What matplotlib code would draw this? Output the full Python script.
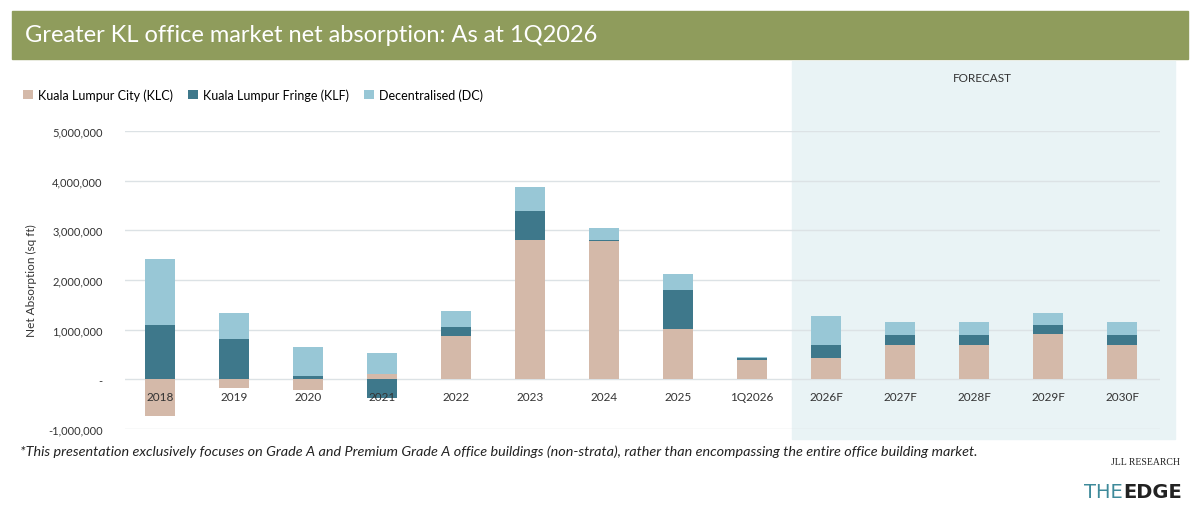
import matplotlib.pyplot as plt
import matplotlib.patches as mpatches
import numpy as np

plt.rcParams['font.family'] = ['Lato', 'DejaVu Sans']

categories = ['2018', '2019', '2020', '2021', '2022', '2023', '2024', '2025', '1Q2026',
              '2026F', '2027F', '2028F', '2029F', '2030F']
klc = [-730000, -170000, -210000, 115000, 865000, 2800000, 2780000, 1010000, 380000,
       420000, 700000, 700000, 905000, 690000]
klf = [1090000, 810000, 70000, -380000, 195000, 585000, 30000, 790000, 40000,
       280000, 190000, 190000, 185000, 200000]
dc = [1340000, 520000, 590000, 425000, 310000, 480000, 240000, 320000, 30000,
      580000, 270000, 260000, 255000, 260000]
series = [('Kuala Lumpur City (KLC)', klc, '#D4B9A9'),
          ('Kuala Lumpur Fringe (KLF)', klf, '#3E788B'),
          ('Decentralised (DC)', dc, '#98C7D6')]

fig = plt.figure(figsize=(12, 5.1), dpi=100)

# header band
fig.patches.append(mpatches.Rectangle((12/1200, 1-60/510), 1176/1200, 48/510,
                                      transform=fig.transFigure, color='#8F9C5C', zorder=-2))
fig.text(25/1200, 1-36/510, 'Greater KL office market net absorption: As at 1Q2026',
         color='white', fontsize=17, va='center')

# forecast shading
fig.patches.append(mpatches.Rectangle((792/1200, 1-440/510), 383/1200, 378/510,
                                      transform=fig.transFigure, color='#E9F3F5', zorder=-2))
fig.text(982/1200, 1-78/510, 'FORECAST', fontsize=8.5, ha='center', va='center', color='#333333')

ax = fig.add_axes([125/1200, 1-430/510, 1035/1200, 298/510])
ax.patch.set_alpha(0)
x = np.arange(len(categories))
pos_bottom = np.zeros(len(x))
neg_bottom = np.zeros(len(x))
for name, vals, col in series:
    v = np.array(vals, dtype=float)
    bottom = np.where(v >= 0, pos_bottom, neg_bottom)
    ax.bar(x, v, 0.4, bottom=bottom, color=col, label=name, zorder=3)
    pos_bottom += np.where(v >= 0, v, 0)
    neg_bottom += np.where(v < 0, v, 0)

ax.set_ylim(-1000000, 5000000)
ax.set_xlim(-0.47, 13.51)
ax.set_yticks(range(-1000000, 5000001, 1000000))
ax.set_yticklabels(['-1,000,000', '-', '1,000,000', '2,000,000', '3,000,000',
                    '4,000,000', '5,000,000'], fontsize=8, color='#333333')
ax.grid(axis='y', color='#DCE2E5', linewidth=1, zorder=0)
ax.tick_params(length=0, pad=16)
for s in ax.spines.values():
    s.set_visible(False)
ax.set_xticks([])
ax.set_ylabel('Net Absorption (sq ft)', fontsize=8.5, color='#333333', labelpad=8)
for i, c in enumerate(categories):
    ax.text(i, -340000, c, ha='center', va='center', fontsize=8.5, color='#333333', zorder=5)

fig.legend(loc='upper left', bbox_to_anchor=(12/1200, 1-78/510), ncol=3, frameon=False,
           fontsize=9, handlelength=0.8, handleheight=0.8, columnspacing=1.2, handletextpad=0.4)

fig.text(20/1200, 1-452/510,
         '*This presentation exclusively focuses on Grade A and Premium Grade A office buildings '
         '(non-strata), rather than encompassing the entire office building market.',
         fontsize=10.4, style='italic', va='center', color='#222222')
fig.text(1180/1200, 1-463/510, 'JLL RESEARCH', fontsize=7, family='Liberation Serif',
         ha='right', va='center', color='#222222')
fig.text(1084/1200, 1-493/510, 'THE', fontsize=14, color='#3E8A9A', va='center',
         family='DejaVu Sans Condensed')
fig.text(1123/1200, 1-493/510, 'EDGE', fontsize=14, weight='bold', color='#222222', va='center',
         family='DejaVu Sans Condensed')

fig.savefig('out.png', dpi=100)
